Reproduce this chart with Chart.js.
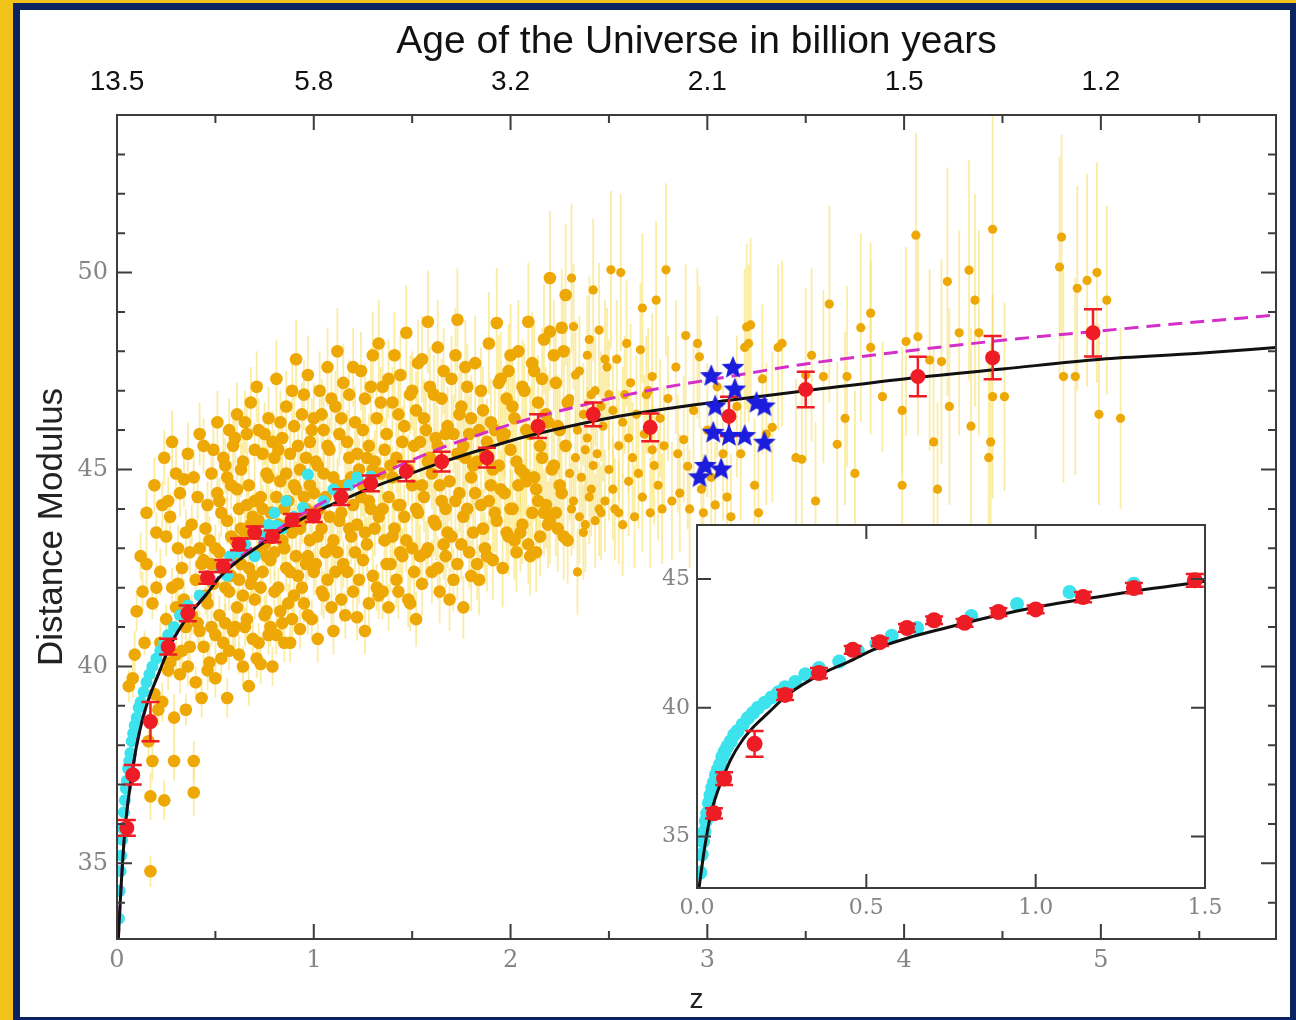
<!DOCTYPE html>
<html>
<head>
<meta charset="utf-8">
<script src="https://cdn.jsdelivr.net/npm/chart.js@4.4.1/dist/chart.umd.min.js"></script>
<style>
  body { margin: 0; width: 1296px; height: 1020px; overflow: hidden; position: relative; background: #f0c21a; }
  #navy { position: absolute; left: 13px; top: 3px; width: 1283px; height: 1017px; background: #0b2360; }
  #paper { position: absolute; left: 20px; top: 10px; width: 1270px; height: 1007px; background: #fff; }
  #main { position: absolute; left: 0; top: 0; }
  #inset { position: absolute; left: 600px; top: 500px; }
</style>
</head>
<body>
<div id="navy"></div>
<div id="paper"></div>
<canvas id="main" width="1296" height="1020"></canvas>
<canvas id="inset" width="640" height="430"></canvas>
<script>
// top axis: age of the universe at z = 0..5
var ageLabels = ['13.5', '5.8', '3.2', '2.1', '1.5', '1.2'];

// red binned points (z, distance modulus, error)
var redZ   = [0.05, 0.08, 0.17, 0.26, 0.36, 0.46, 0.54, 0.62, 0.70, 0.79, 0.89, 1.0, 1.14, 1.29, 1.47, 1.65, 1.88, 2.14, 2.42, 2.71, 3.11, 3.5, 4.07, 4.45, 4.96];
var redMu  = [35.9, 37.25, 38.6, 40.5, 41.35, 42.25, 42.55, 43.1, 43.4, 43.3, 43.72, 43.82, 44.3, 44.65, 44.95, 45.2, 45.3, 46.1, 46.4, 46.07, 46.35, 47.03, 47.36, 47.84, 48.47];
var redErr = [0.2, 0.25, 0.5, 0.2, 0.2, 0.15, 0.15, 0.15, 0.15, 0.15, 0.15, 0.15, 0.2, 0.2, 0.25, 0.25, 0.25, 0.3, 0.3, 0.35, 0.5, 0.45, 0.5, 0.55, 0.6];

// black solid curve
var curveZ  = [0.006, 0.012, 0.02, 0.028, 0.037, 0.049, 0.065, 0.081, 0.1, 0.133, 0.17, 0.207, 0.27, 0.365, 0.45, 0.523, 0.62, 0.734, 0.84, 0.945, 1.05, 1.156, 1.3, 1.472, 1.65, 1.85, 2.05, 2.3, 2.55, 2.8, 3.1, 3.5, 4.0, 4.5, 5.0, 5.5, 5.89];
var curveMu = [33.0, 33.6, 34.35, 35.0, 35.65, 36.27, 36.9, 37.43, 38.0, 38.72, 39.3, 39.76, 40.53, 41.3, 41.8, 42.27, 42.7, 43.1, 43.45, 43.76, 44.02, 44.25, 44.55, 44.86, 45.18, 45.5, 45.8, 46.1, 46.35, 46.55, 46.75, 47.0, 47.3, 47.55, 47.8, 47.95, 48.1];

// magenta dashed curve
var dashZ  = [0.006, 0.012, 0.02, 0.028, 0.037, 0.049, 0.065, 0.081, 0.1, 0.133, 0.17, 0.207, 0.27, 0.365, 0.45, 0.523, 0.62, 0.734, 0.84, 0.945, 1.05, 1.156, 1.3, 1.472, 1.65, 1.85, 2.05, 2.3, 2.55, 2.8, 3.1, 3.5, 4.0, 4.5, 5.0, 5.5, 5.89];
var dashMu = [33.0, 33.6, 34.35, 35.0, 35.65, 36.27, 36.9, 37.43, 38.0, 38.72, 39.3, 39.76, 40.53, 41.3, 41.82, 42.3, 42.75, 43.17, 43.55, 43.88, 44.17, 44.45, 44.8, 45.18, 45.55, 45.9, 46.22, 46.55, 46.85, 47.1, 47.35, 47.68, 48.0, 48.28, 48.52, 48.75, 48.92];

// cyan supernovae
var cyanLow = [[0.01,33.6],[0.014,34.3],[0.018,34.8],[0.022,35.2],[0.026,35.6],[0.03,35.9],[0.035,36.3],[0.04,36.6],[0.045,36.9],[0.05,37.1],[0.056,37.4],[0.062,37.6],[0.068,37.8],[0.075,38.1],[0.082,38.3],[0.09,38.5],[0.1,38.7],[0.11,38.95],[0.12,39.1],[0.135,39.35],[0.15,39.6],[0.165,39.8],[0.18,40.0],[0.2,40.2],[0.22,40.4],[0.24,40.6],[0.26,40.8],[0.29,41.0],[0.32,41.3]];
var cyanMid = [[0.36,41.55],[0.42,41.8],[0.475,42.2],[0.53,42.5],[0.575,42.8],[0.65,43.1],[0.81,43.57],[0.945,44.03],[1.10,44.5],[1.29,44.82]];
var cyanExtra = [[0.56,42.3],[0.62,42.9],[0.7,42.8],[0.74,43.3],[0.77,43.6],[0.8,43.9],[0.84,43.5],[0.86,44.2],[0.9,43.8],[0.97,44.87],[1.05,44.2],[1.18,44.6],[1.22,44.8]];

// blue stars
var starZ  = [3.02, 3.13, 3.14, 3.04, 3.25, 3.29, 3.03, 3.11, 3.19, 3.29, 2.99, 3.07, 2.96];
var starMu = [47.37, 47.58, 47.03, 46.6, 46.69, 46.6, 45.93, 45.85, 45.85, 45.68, 45.09, 45.0, 44.8];

// yellow quasars [z, mu, err]
var qsoA = [[0.06,39.5,0.4],[0.08,39.7,0.5],[0.09,40.3,0.6],[0.1,41.4,0.5],[0.12,39.0,0.4],[0.12,42.8,0.6],[0.13,41.9,0.5],[0.14,40.6,0.3],[0.15,42.6,0.7],[0.15,43.9,0.6],[0.16,38.1,0.5],[0.17,34.8,0.4],[0.17,36.7,0.6],[0.18,37.6,0.5],[0.18,41.6,0.4],[0.19,39.3,0.5],[0.19,44.6,0.7],[0.2,42.0,0.6],[0.2,43.4,0.5],[0.21,38.9,0.4],[0.22,40.6,0.5],[0.22,42.4,0.6],[0.23,39.1,0.5],[0.23,44.1,0.6],[0.24,36.6,0.5],[0.24,45.3,0.7],[0.25,41.2,0.4],[0.25,43.3,0.5],[0.26,44.2,0.6],[0.26,39.9,0.5],[0.27,40.1,0.4],[0.27,43.8,0.6],[0.28,42.0,0.5],[0.28,45.7,0.8],[0.29,37.6,0.5],[0.29,38.7,0.6],[0.3,41.5,0.5],[0.3,44.9,0.7],[0.3,40.3,0.4],[0.31,43.0,0.6],[0.31,42.1,0.5],[0.32,39.8,0.5],[0.32,44.4,0.6],[0.33,42.5,0.4],[0.33,40.4,0.5],[0.34,44.75,0.7],[0.34,41.7,0.5],[0.35,38.9,0.4],[0.35,41.0,0.5],[0.35,43.4,0.6],[0.36,45.4,0.8],[0.36,40.0,0.5],[0.37,40.5,0.5],[0.37,42.9,0.6],[0.38,43.6,0.5],[0.38,41.3,0.5],[0.39,37.6,0.5],[0.39,36.8,0.6],[0.39,44.8,0.7],[0.4,42.2,0.5],[0.4,39.6,0.4],[0.41,44.3,0.6],[0.41,41.1,0.5],[0.42,40.9,0.5],[0.42,43.0,0.6],[0.42,45.9,0.8],[0.43,39.2,0.5],[0.43,42.6,0.5],[0.44,42.7,0.6],[0.44,45.6,0.7],[0.44,40.5,0.5],[0.45,43.5,0.6],[0.45,41.8,0.5]];

var qsoB = [[0.46,41.6,0.5],[0.46,44.1,0.6],[0.46,39.9,0.5],[0.47,40.1,0.5],[0.47,43.2,0.6],[0.48,44.9,0.7],[0.48,41.0,0.5],[0.48,42.6,0.5],[0.49,42.1,0.6],[0.49,45.5,0.7],[0.5,39.7,0.5],[0.5,43.0,0.6],[0.5,40.8,0.5],[0.51,46.2,0.8],[0.51,44.4,0.6],[0.52,41.3,0.5],[0.52,44.2,0.6],[0.52,42.9,0.5],[0.53,42.5,0.5],[0.53,43.9,0.6],[0.53,40.2,0.5],[0.54,40.6,0.5],[0.54,45.3,0.7],[0.55,45.1,0.7],[0.55,41.1,0.5],[0.55,42.0,0.6],[0.56,39.2,0.5],[0.56,43.7,0.6],[0.56,44.8,0.6],[0.57,41.9,0.5],[0.57,46.0,0.8],[0.57,40.4,0.5],[0.58,44.6,0.6],[0.58,42.3,0.5],[0.58,43.3,0.6],[0.59,40.9,0.5],[0.59,42.8,0.6],[0.59,45.6,0.7],[0.6,45.8,0.7],[0.6,43.2,0.6],[0.6,41.0,0.5],[0.61,46.4,0.8],[0.61,41.5,0.5],[0.61,44.5,0.6],[0.62,44.0,0.6],[0.62,40.3,0.5],[0.62,42.2,0.5],[0.63,42.6,0.5],[0.63,43.5,0.6],[0.63,45.0,0.7],[0.64,40.0,0.5],[0.64,45.2,0.7],[0.64,41.8,0.5],[0.65,43.4,0.6],[0.65,41.0,0.5],[0.65,46.2,0.8],[0.66,41.2,0.5],[0.66,45.9,0.7],[0.66,44.1,0.6],[0.67,39.5,0.5],[0.67,44.6,0.7],[0.67,42.5,0.5],[0.68,42.1,0.5],[0.68,46.7,0.9],[0.68,43.6,0.6],[0.69,43.8,0.6],[0.69,42.3,0.5],[0.69,40.7,0.5],[0.7,41.7,0.5],[0.7,45.5,0.7],[0.7,44.2,0.6],[0.71,47.1,0.9],[0.71,42.9,0.6],[0.71,40.2,0.5],[0.72,40.6,0.5],[0.72,46.0,0.8],[0.72,43.7,0.6],[0.73,44.3,0.6],[0.73,40.06,0.5],[0.73,42.0,0.5],[0.74,42.4,0.5],[0.74,44.0,0.6],[0.74,45.4,0.7],[0.75,45.9,0.8],[0.75,43.1,0.6],[0.75,41.3,0.5],[0.76,41.4,0.5],[0.76,44.9,0.7],[0.76,42.8,0.5],[0.77,44.8,0.7],[0.77,46.3,0.8],[0.77,40.8,0.5],[0.78,42.7,0.6],[0.78,41.0,0.5],[0.78,43.9,0.6],[0.79,40.0,0.5],[0.79,43.9,0.6],[0.79,45.7,0.8],[0.8,45.3,0.7],[0.8,41.9,0.5],[0.8,42.9,0.6],[0.81,47.3,1.0],[0.81,44.3,0.6],[0.81,40.8,0.5],[0.82,43.6,0.6],[0.82,42.0,0.5],[0.82,45.5,0.7],[0.83,44.7,0.7],[0.83,46.2,0.8],[0.83,41.4,0.5],[0.84,41.1,0.5],[0.84,45.8,0.8],[0.84,43.2,0.6],[0.85,43.0,0.6],[0.85,44.0,0.6],[0.85,40.6,0.5],[0.86,46.6,0.9],[0.86,42.5,0.6],[0.86,44.9,0.7],[0.87,44.2,0.7],[0.87,41.6,0.5],[0.87,43.6,0.6],[0.88,40.6,0.5],[0.88,45.4,0.7],[0.88,42.4,0.6],[0.89,43.4,0.6],[0.89,47.0,0.9],[0.89,41.2,0.5],[0.9,41.8,0.6],[0.9,46.1,0.8],[0.9,44.6,0.7]];

var qsoC = [[0.91,47.8,1.0],[0.91,44.5,0.7],[0.91,42.8,0.6],[0.92,42.3,0.6],[0.92,45.6,0.8],[0.93,40.95,0.5],[0.93,45.0,0.7],[0.93,43.5,0.6],[0.94,43.7,0.6],[0.94,42.0,0.6],[0.94,46.4,0.8],[0.95,46.9,0.9],[0.95,41.6,0.5],[0.95,44.3,0.7],[0.96,44.0,0.7],[0.96,42.6,0.6],[0.96,45.3,0.8],[0.97,42.8,0.6],[0.97,47.4,1.0],[0.97,41.3,0.5],[0.98,45.7,0.8],[0.98,43.2,0.6],[0.98,44.6,0.7],[0.99,41.2,0.5],[0.99,46.0,0.8],[0.99,43.9,0.7],[1.0,46.3,0.9],[1.0,44.4,0.7],[1.0,42.4,0.6],[1.01,42.6,0.6],[1.01,45.2,0.8],[1.02,40.7,0.6],[1.02,45.1,0.8],[1.02,43.3,0.7],[1.03,47.0,1.0],[1.03,44.0,0.7],[1.04,43.5,0.7],[1.04,46.4,0.9],[1.04,41.9,0.6],[1.05,41.8,0.6],[1.05,46.0,0.9],[1.05,44.9,0.7],[1.06,44.3,0.7],[1.06,42.9,0.6],[1.07,42.2,0.6],[1.07,45.6,0.8],[1.07,47.6,1.0],[1.08,45.5,0.8],[1.08,43.8,0.7],[1.09,43.0,0.7],[1.09,46.8,0.9],[1.09,41.5,0.6],[1.1,40.9,0.6],[1.1,44.8,0.7],[1.1,43.2,0.7],[1.11,46.6,0.9],[1.11,42.4,0.6],[1.12,42.9,0.7],[1.12,48.0,1.1],[1.12,44.6,0.7],[1.13,45.9,0.8],[1.13,43.7,0.7],[1.14,41.7,0.6],[1.14,43.9,0.7],[1.14,46.3,0.9],[1.15,47.2,1.0],[1.15,42.6,0.6],[1.16,44.6,0.8],[1.16,41.3,0.6],[1.17,42.4,0.7],[1.17,45.7,0.8],[1.18,45.3,0.8],[1.18,46.9,0.9],[1.18,43.5,0.7],[1.19,43.3,0.7],[1.19,44.8,0.8],[1.2,41.9,0.6],[1.2,44.1,0.7],[1.2,47.6,1.0],[1.21,46.2,0.9],[1.21,42.9,0.7],[1.22,41.25,0.6],[1.22,43.6,0.7],[1.22,45.4,0.8],[1.23,45.0,0.8],[1.23,42.2,0.6],[1.24,47.5,1.0],[1.24,44.3,0.8],[1.25,42.7,0.7],[1.25,44.6,0.8],[1.25,46.0,0.9],[1.26,46.8,0.9],[1.26,40.9,0.6],[1.26,43.4,0.7],[1.27,43.1,0.7],[1.27,45.3,0.8],[1.28,41.6,0.6],[1.28,45.6,0.8],[1.28,44.2,0.8],[1.29,44.0,0.8],[1.29,47.1,1.0],[1.3,47.9,1.1],[1.3,42.3,0.7],[1.3,45.0,0.8],[1.31,45.2,0.8],[1.31,43.5,0.7],[1.32,42.0,0.6],[1.32,46.3,0.9],[1.33,43.8,0.7],[1.33,48.2,1.1],[1.33,41.8,0.6],[1.34,44.9,0.8],[1.34,46.7,0.9],[1.35,47.1,1.0],[1.35,41.9,0.7],[1.35,44.0,0.8],[1.36,43.2,0.7],[1.36,45.5,0.8],[1.37,45.9,0.9],[1.37,42.6,0.7],[1.38,44.3,0.8],[1.38,41.5,0.6],[1.38,47.3,1.0],[1.39,42.6,0.7],[1.39,45.1,0.8],[1.4,46.7,0.9],[1.4,44.8,0.8],[1.4,43.3,0.7],[1.41,43.5,0.8],[1.41,47.9,1.1],[1.42,45.3,0.9],[1.42,42.2,0.7],[1.43,41.9,0.7],[1.43,46.4,0.9],[1.43,44.1,0.8],[1.44,47.4,1.0],[1.44,44.1,0.8],[1.44,42.9,0.7],[1.45,42.8,0.7],[1.45,45.7,0.9],[1.46,46.1,0.9],[1.46,43.8,0.8],[1.47,48.47,1.2],[1.47,43.2,0.8],[1.48,45.0,0.9],[1.48,41.7,0.7],[1.49,41.6,0.7],[1.49,46.9,1.0],[1.5,44.6,0.9],[1.5,47.0,1.0],[1.5,43.0,0.8]];

var qsoD = [[1.51,42.4,0.8],[1.51,45.6,0.9],[1.52,46.5,1.0],[1.52,41.2,0.7],[1.52,44.0,0.9],[1.53,43.9,0.9],[1.53,47.7,1.1],[1.54,45.7,0.9],[1.54,42.8,0.8],[1.55,42.1,0.8],[1.55,47.8,1.1],[1.55,44.6,0.9],[1.56,44.3,0.9],[1.56,46.3,1.0],[1.57,46.0,1.0],[1.57,42.9,0.8],[1.58,48.75,1.3],[1.58,43.0,0.8],[1.58,45.2,0.9],[1.59,45.3,0.9],[1.59,47.1,1.0],[1.6,42.4,0.8],[1.6,44.9,0.9],[1.61,46.9,1.0],[1.61,43.7,0.9],[1.62,43.6,0.9],[1.62,45.8,1.0],[1.63,45.6,1.0],[1.63,48.1,1.2],[1.63,42.5,0.8],[1.64,41.9,0.8],[1.64,44.6,0.9],[1.65,44.2,0.9],[1.65,46.8,1.0],[1.66,47.5,1.1],[1.66,43.1,0.9],[1.67,42.8,0.8],[1.67,44.0,0.9],[1.67,45.9,1.0],[1.68,46.1,1.0],[1.68,43.4,0.9],[1.69,41.7,0.8],[1.69,44.7,1.0],[1.7,43.3,0.9],[1.7,47.3,1.1],[1.71,45.9,1.0],[1.71,42.2,0.8],[1.72,47.9,1.2],[1.72,44.2,1.0],[1.73,48.8,1.3],[1.73,42.6,0.9],[1.73,45.4,1.0],[1.74,44.4,1.0],[1.74,46.4,1.1],[1.75,46.6,1.1],[1.75,43.1,0.9],[1.76,41.5,0.8],[1.76,43.8,0.9],[1.76,45.6,1.0],[1.77,45.3,1.0],[1.77,47.6,1.2],[1.78,47.1,1.1],[1.78,44.0,1.0],[1.79,42.9,0.9],[1.79,45.9,1.0],[1.8,44.8,1.0],[1.8,46.3,1.1],[1.8,42.3,0.9],[1.81,43.4,0.9],[1.81,45.1,1.0],[1.82,47.7,1.2],[1.82,44.4,1.0],[1.83,45.2,1.0],[1.83,42.6,0.9],[1.84,42.2,0.9],[1.84,46.0,1.1],[1.85,44.1,1.0],[1.85,47.0,1.1],[1.86,46.5,1.1],[1.86,43.5,1.0],[1.87,43.0,0.9],[1.87,45.4,1.0],[1.88,45.7,1.1],[1.88,42.8,0.9],[1.89,48.2,1.3],[1.89,44.2,1.0],[1.9,44.6,1.0],[1.9,46.2,1.1],[1.91,42.7,1.0],[1.91,45.0,1.0],[1.92,46.0,1.1],[1.92,43.9,1.0],[1.93,48.72,1.4],[1.93,43.7,1.0],[1.94,45.1,1.1],[1.94,47.2,1.2],[1.95,47.3,1.2],[1.95,44.5,1.0],[1.96,42.5,1.0],[1.96,45.8,1.1],[1.97,44.4,1.0],[1.97,45.9,1.1],[1.98,46.8,1.2],[1.98,43.4,1.0],[1.99,43.3,1.0],[1.99,47.5,1.2],[2.0,45.5,1.1],[2.0,47.9,1.3],[2.0,44.0,1.0],[2.01,44.0,1.0],[2.01,46.6,1.2],[2.02,46.3,1.2],[2.02,43.2,1.0],[2.03,42.9,1.0],[2.03,45.2,1.1],[2.04,48.0,1.3],[2.04,44.6,1.1],[2.05,45.0,1.1],[2.05,43.4,1.0],[2.06,43.6,1.0],[2.06,47.1,1.2],[2.07,47.0,1.2],[2.07,44.9,1.1],[2.08,44.7,1.1],[2.08,46.0,1.2],[2.09,48.75,1.5],[2.09,43.1,1.0],[2.1,42.8,1.0],[2.1,45.9,1.2],[2.11,43.9,1.1],[2.11,47.7,1.3],[2.12,47.5,1.3],[2.12,44.8,1.1],[2.13,44.5,1.1],[2.13,42.9,1.0],[2.14,46.7,1.2],[2.14,44.2,1.1],[2.15,43.3,1.0],[2.15,45.6,1.2],[2.16,45.3,1.2],[2.16,47.3,1.3],[2.17,48.3,1.4],[2.17,43.9,1.1],[2.18,44.1,1.1],[2.18,46.4,1.2],[2.19,46.2,1.2],[2.19,43.6,1.1],[2.2,49.86,1.7],[2.2,48.5,1.5],[2.2,43.7,1.1]];

var qsoE = [[2.21,45.0,1.2],[2.22,45.1,1.2],[2.22,47.9,1.4],[2.23,47.2,1.3],[2.23,43.9,1.1],[2.24,43.5,1.1],[2.24,46.1,1.3],[2.25,46.0,1.3],[2.25,44.6,1.2],[2.26,44.4,1.2],[2.26,48.6,1.5],[2.27,48.0,1.5],[2.27,43.3,1.1],[2.28,49.43,1.8],[2.28,45.6,1.2],[2.29,43.2,1.1],[2.29,46.7,1.3],[2.3,46.8,1.3],[2.3,44.9,1.2],[2.31,49.86,1.9],[2.31,44.0,1.2],[2.32,48.63,1.6],[2.32,44.2,1.2],[2.33,45.3,1.2],[2.33,47.4,1.4],[2.34,42.4,1.1],[2.34,46.0,1.3],[2.35,47.5,1.4],[2.35,43.8,1.2],[2.36,44.8,1.2],[2.37,46.4,1.3],[2.37,43.4,1.2],[2.38,43.6,1.2],[2.38,45.5,1.3],[2.39,45.8,1.3],[2.39,47.9,1.5],[2.4,48.3,1.6],[2.4,44.3,1.2],[2.41,44.5,1.2],[2.41,46.9,1.4],[2.42,49.56,1.8],[2.42,45.1,1.3],[2.43,47.0,1.4],[2.43,43.7,1.2],[2.44,45.4,1.3],[2.45,48.54,1.7],[2.45,44.0,1.2],[2.46,43.9,1.2],[2.46,46.6,1.4],[2.47,46.1,1.4],[2.48,44.2,1.3],[2.48,47.8,1.5],[2.49,47.6,1.5],[2.5,45.0,1.3],[2.5,46.9,1.4],[2.51,50.07,2.0],[2.52,46.5,1.4],[2.52,44.5,1.3],[2.53,44.0,1.3],[2.54,47.8,1.5],[2.55,45.6,1.4],[2.55,43.9,1.3],[2.56,50.0,2.0],[2.57,43.6,1.3],[2.57,46.2,1.4],[2.58,46.9,1.5],[2.59,48.2,1.6],[2.6,44.7,1.4],[2.6,45.8,1.4],[2.61,47.2,1.5],[2.62,45.3,1.4],[2.63,43.8,1.3],[2.64,46.4,1.5],[2.65,44.9,1.4],[2.66,48.04,1.7],[2.67,49.1,1.9],[2.67,44.3,1.4],[2.68,45.9,1.5],[2.69,46.9,1.5],[2.7,47.0,1.6],[2.71,43.9,1.4],[2.72,47.36,1.6],[2.72,45.5,1.5],[2.73,45.1,1.5],[2.74,49.3,2.0],[2.75,44.6,1.4],[2.76,46.3,1.5],[2.77,44.0,1.4],[2.78,45.6,1.5],[2.79,50.07,2.2],[2.8,46.8,1.6],[2.82,44.2,1.5],[2.84,47.6,1.7],[2.85,45.4,1.5],[2.86,44.4,1.5],[2.88,45.76,1.6],[2.89,48.4,1.8],[2.9,45.08,1.6],[2.91,44.0,1.5],[2.93,46.5,1.7],[2.95,48.2,1.9],[2.96,47.86,1.8],[2.97,44.5,1.6],[2.98,43.9,1.5],[3.0,46.0,1.7],[3.02,44.8,1.6],[3.04,44.1,1.6],[3.05,47.1,1.8],[3.08,45.4,1.7],[3.1,44.3,1.6],[3.12,43.8,1.6],[3.15,46.6,1.8],[3.17,45.4,1.7],[3.19,48.1,2.0],[3.2,48.62,2.1],[3.21,48.2,2.0],[3.22,48.67,2.2],[3.24,44.6,1.7],[3.26,43.9,1.7],[3.28,47.3,1.9],[3.3,45.9,1.8],[3.33,46.07,1.9],[3.36,48.1,2.1],[3.38,48.2,2.1]];

var qsoF = [[3.45,45.3,2.0],[3.48,45.26,2.0],[3.5,47.4,2.2],[3.53,47.9,2.2],[3.55,44.2,2.0],[3.59,47.36,2.2],[3.62,49.2,2.5],[3.66,45.64,2.1],[3.7,46.3,2.2],[3.71,47.36,2.3],[3.75,44.9,2.1],[3.78,48.6,2.4],[3.83,48.97,1.8],[3.83,48.1,2.2],[3.89,46.85,1.4],[3.99,46.5,1.6],[3.99,44.6,2.0],[4.01,48.25,2.4],[4.06,50.95,2.6],[4.07,48.37,2.5],[4.13,47.78,2.3],[4.15,45.7,2.4],[4.17,44.5,2.2],[4.19,47.74,2.6],[4.22,49.77,2.9],[4.23,46.6,2.5],[4.28,48.47,2.6],[4.33,50.06,2.8],[4.34,46.1,2.5],[4.36,49.3,2.7],[4.38,48.47,2.6],[4.43,45.3,2.6],[4.44,45.7,2.5],[4.45,51.1,3.0],[4.45,46.85,2.6],[4.51,46.85,2.4],[4.79,50.14,2.8],[4.8,50.9,2.6],[4.81,47.36,2.7],[4.87,47.36,2.5],[4.88,49.6,2.6],[4.93,49.8,2.7],[4.98,50.0,2.8],[4.99,46.4,2.3],[5.03,49.3,2.4],[5.1,46.3,2.3]];

var SANS = "'Liberation Sans', Arial, sans-serif";
var SERIF = "'DejaVu Serif', serif";

function pts(zs, ms) {
    return zs.map(function (z, i) { return {x: z, y: ms[i]}; });
}
function pairPts(list) {
    return list.map(function (p) { return {x: p[0], y: p[1]}; });
}

var qsoAll = qsoA.concat(qsoB, qsoC, qsoD, qsoE, qsoF);

function makeStar(r, color) {
    var c = document.createElement('canvas');
    c.width = c.height = r * 2 + 2;
    var g = c.getContext('2d');
    g.fillStyle = color;
    g.beginPath();
    for (var i = 0; i < 10; i++) {
        var a = -Math.PI / 2 + i * Math.PI / 5;
        var rr = (i % 2) ? r * 0.45 : r;
        g.lineTo(r + 1 + rr * Math.cos(a), r + 1 + rr * Math.sin(a));
    }
    g.closePath();
    g.fill();
    return c;
}

// frame, inward ticks and error bars
function boxPlugin(cfg) {
    return {
        id: 'box',
        beforeDraw: function (chart) {
            if (!cfg.fill) return;
            var a = chart.chartArea, ctx = chart.ctx;
            ctx.save();
            ctx.fillStyle = '#fff';
            ctx.fillRect(a.left, a.top, a.right - a.left, a.bottom - a.top);
            ctx.restore();
        },
        beforeDatasetDraw: function (chart, args) {
            var ds = chart.data.datasets[args.index];
            if (!ds.errors) return;
            var a = chart.chartArea, ctx = chart.ctx, sy = chart.scales.y;
            ctx.save();
            ctx.beginPath();
            ctx.rect(a.left, a.top, a.right - a.left, a.bottom - a.top);
            ctx.clip();
            ctx.strokeStyle = ds.errColor;
            ctx.lineWidth = ds.errWidth;
            args.meta.data.forEach(function (el, i) {
                var e = ds.errors[i], v = ds.data[i].y;
                var y1 = sy.getPixelForValue(v + e), y2 = sy.getPixelForValue(v - e);
                ctx.beginPath();
                ctx.moveTo(el.x, y1); ctx.lineTo(el.x, y2);
                if (ds.cap) {
                    ctx.moveTo(el.x - ds.cap, y1); ctx.lineTo(el.x + ds.cap, y1);
                    ctx.moveTo(el.x - ds.cap, y2); ctx.lineTo(el.x + ds.cap, y2);
                }
                ctx.stroke();
            });
            ctx.restore();
        },
        afterDraw: function (chart) {
            var a = chart.chartArea, ctx = chart.ctx, sx = chart.scales.x, sy = chart.scales.y;
            ctx.save();
            ctx.strokeStyle = '#3c3c3c';
            ctx.lineWidth = 2;
            ctx.strokeRect(a.left, a.top, a.right - a.left, a.bottom - a.top);
            ctx.beginPath();
            cfg.xTicks.forEach(function (t) {
                var px = sx.getPixelForValue(t[0]);
                ctx.moveTo(px, a.bottom); ctx.lineTo(px, a.bottom - t[1]);
                ctx.moveTo(px, a.top); ctx.lineTo(px, a.top + t[1]);
            });
            cfg.yTicks.forEach(function (t) {
                var py = sy.getPixelForValue(t[0]);
                ctx.moveTo(a.left, py); ctx.lineTo(a.left + t[1], py);
                ctx.moveTo(a.right, py); ctx.lineTo(a.right - t[1], py);
            });
            ctx.stroke();
            ctx.restore();
        }
    };
}

var mainXTicks = [], mainYTicks = [];
for (var v = 0; v <= 5.5; v += 0.5) mainXTicks.push([v, v % 1 === 0 ? 15 : 8]);
for (var w = 34; w <= 53; w++) mainYTicks.push([w, w % 5 === 0 ? 15 : 8]);

var noGrid = {display: false, drawTicks: false, tickLength: 0};

var starImg = makeStar(12, '#1c1cdc');

new Chart(document.getElementById('main'), {
    type: 'scatter',
    data: {
        datasets: [
            {label: 'stars', data: pts(starZ, starMu), pointStyle: starImg, pointRadius: 12, order: 0},
            {label: 'binned', data: pts(redZ, redMu), errors: redErr, errColor: '#ee1c24', errWidth: 2.5, cap: 9,
             backgroundColor: '#ee1c24', pointRadius: 7.5, borderWidth: 0, order: 1},
            {label: 'lcdm', data: pts(curveZ, curveMu), showLine: true, borderColor: '#111', borderWidth: 3,
             pointRadius: 0, cubicInterpolationMode: 'monotone', order: 2},
            {label: 'fit', data: pts(dashZ, dashMu), showLine: true, borderColor: '#d42fc8', borderWidth: 3,
             borderDash: [14, 8], pointRadius: 0, cubicInterpolationMode: 'monotone', order: 3},
            {label: 'sne', data: pairPts(cyanLow.concat(cyanMid, cyanExtra)), backgroundColor: '#3de3ec',
             pointRadius: 6, borderWidth: 0, order: 4},
            {label: 'qso', data: pairPts(qsoAll), errors: qsoAll.map(function (q) { return q[2]; }),
             errColor: 'rgba(247,220,90,0.55)', errWidth: 1.8, backgroundColor: '#eea806',
             pointRadius: function (c) { return c.raw && c.raw.x < 2.3 ? 6.3 : 4.6; },
             borderWidth: 0, order: 5}
        ]
    },
    options: {
        responsive: false,
        animation: false,
        devicePixelRatio: 1,
        events: [],
        layout: {padding: {left: 20, top: 10, right: 20, bottom: 0}},
        plugins: {legend: {display: false}, tooltip: {enabled: false}},
        scales: {
            x: {
                type: 'linear', position: 'bottom', min: 0, max: 5.89,
                grid: noGrid, border: {display: false},
                ticks: {stepSize: 1, includeBounds: false, autoSkip: false, maxRotation: 0, padding: 7,
                        color: '#858585', font: {family: SERIF, size: 24}},
                title: {display: true, text: 'z', color: '#222', font: {family: SANS, size: 28},
                        padding: {top: 0, bottom: 3}},
                afterFit: function (s) { s.height = 81; }
            },
            x2: {
                type: 'linear', position: 'top', min: 0, max: 5.89,
                grid: noGrid, border: {display: false},
                ticks: {stepSize: 1, includeBounds: false, autoSkip: false, maxRotation: 0, padding: 16,
                        color: '#111', font: {family: SANS, size: 28},
                        callback: function (val) { return ageLabels[Math.round(val)]; }},
                title: {display: true, text: 'Age of the Universe in billion years', color: '#111',
                        font: {family: SANS, size: 39}, padding: {top: 9, bottom: 0}},
                afterFit: function (s) { s.height = 105; }
            },
            y: {
                type: 'linear', position: 'left', min: 33.08, max: 54,
                grid: noGrid, border: {display: false},
                ticks: {stepSize: 5, includeBounds: false, padding: 9, color: '#858585',
                        font: {family: SERIF, size: 24}},
                title: {display: true, text: 'Distance Modulus', color: '#222',
                        font: {family: SANS, size: 35}, padding: {top: 11, bottom: 0}},
                afterFit: function (s) { s.width = 97; }
            }
        }
    },
    plugins: [boxPlugin({fill: false, xTicks: mainXTicks, yTicks: mainYTicks})]
});

// inset: zoom on low redshift
var insetXTicks = [[0, 14], [0.5, 14], [1.0, 14], [1.5, 14]];
var insetYTicks = [[35, 14], [40, 14], [45, 14]];

new Chart(document.getElementById('inset'), {
    type: 'scatter',
    data: {
        datasets: [
            {label: 'binned', data: pts(redZ, redMu), errors: redErr, errColor: '#ee1c24', errWidth: 2.5, cap: 9,
             backgroundColor: '#ee1c24', pointRadius: 8, borderWidth: 0, order: 1},
            {label: 'lcdm', data: pts(curveZ, curveMu), showLine: true, borderColor: '#111', borderWidth: 3,
             pointRadius: 0, cubicInterpolationMode: 'monotone', order: 2},
            {label: 'sne', data: pairPts(cyanLow.concat(cyanMid)), backgroundColor: '#3de3ec',
             pointRadius: 7, borderWidth: 0, order: 4}
        ]
    },
    options: {
        responsive: false,
        animation: false,
        devicePixelRatio: 1,
        events: [],
        layout: {padding: {left: 0, top: 25, right: 35, bottom: 0}},
        plugins: {legend: {display: false}, tooltip: {enabled: false}},
        scales: {
            x: {
                type: 'linear', position: 'bottom', min: 0, max: 1.5,
                grid: noGrid, border: {display: false},
                ticks: {stepSize: 0.5, autoSkip: false, maxRotation: 0, padding: 7, color: '#858585',
                        font: {family: SERIF, size: 22},
                        callback: function (val) { return val.toFixed(1); }},
                afterFit: function (s) { s.height = 42; }
            },
            y: {
                type: 'linear', position: 'left', min: 33.0, max: 47.1,
                grid: noGrid, border: {display: false},
                ticks: {stepSize: 5, includeBounds: false, padding: 7, color: '#858585',
                        font: {family: SERIF, size: 22}},
                afterFit: function (s) { s.width = 97; }
            }
        }
    },
    plugins: [boxPlugin({fill: true, xTicks: insetXTicks, yTicks: insetYTicks})]
});
</script>
</body>
</html>
